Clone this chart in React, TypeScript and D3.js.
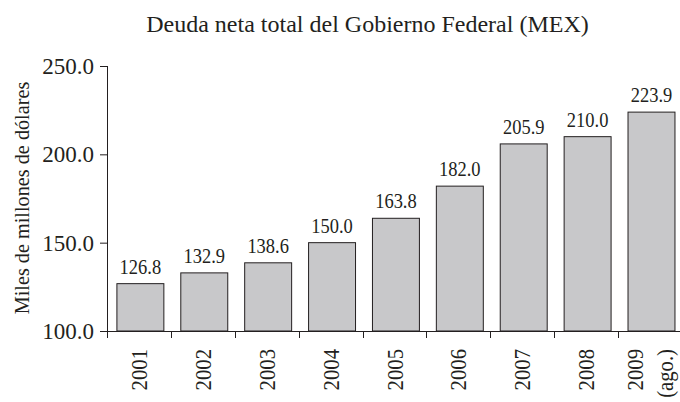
import React from "react";
import * as d3 from "d3";

const categories = ["2001", "2002", "2003", "2004", "2005", "2006", "2007", "2008", "2009"];
const categoryLines: string[][] = [["2001"], ["2002"], ["2003"], ["2004"], ["2005"], ["2006"], ["2007"], ["2008"], ["2009", "(ago.)"]];
const values = [126.8, 132.9, 138.6, 150.0, 163.8, 182.0, 205.9, 210.0, 223.9];
const valueLabels = ["126.8", "132.9", "138.6", "150.0", "163.8", "182.0", "205.9", "210.0", "223.9"];
const yTicks = [100, 150, 200, 250];
const title = "Deuda neta total del Gobierno Federal (MEX)";
const yLabel = "Miles de millones de dólares";

const W = 680;
const H = 402;
const FONT = "'Liberation Serif', 'Times New Roman', serif";
const INK = "#231f20";

export default function App() {
  const x = d3.scaleBand<string>().domain(categories).range([107, 682]).padding(0);
  const y = d3.scaleLinear().domain([100, 250]).range([331, 66]);
  const bw = x.bandwidth();
  const barW = bw * 0.735;
  const barOff = bw * 0.155;
  const base = y(100);

  return (
    <svg width={W} height={H} style={{ position: "absolute", left: 0, top: 0, background: "#fff" }}>
      <text x={367.5} y={32} textAnchor="middle" fontFamily={FONT} fontSize={24} fill={INK}>
        {title}
      </text>

      {/* bars */}
      {categories.map((c, i) => (
        <rect
          key={c}
          x={(x(c) as number) + barOff}
          y={y(values[i])}
          width={barW}
          height={base - y(values[i])}
          fill="#c8c8ca"
          stroke={INK}
          strokeWidth={1}
        />
      ))}

      {/* value labels */}
      {categories.map((c, i) => {
        const cx = (x(c) as number) + barOff + barW / 2;
        const by = y(values[i]) - 10;
        return (
          <text
            key={c}
            transform={`translate(${cx},${by}) scale(0.88,1)`}
            textAnchor="middle"
            fontFamily={FONT}
            fontSize={21}
            fill={INK}
          >
            {valueLabels[i]}
          </text>
        );
      })}

      {/* y axis */}
      <line x1={107.5} x2={107.5} y1={y(250)} y2={base} stroke={INK} strokeWidth={1} />
      {yTicks.map((t) => (
        <g key={t}>
          <line x1={100} x2={107.5} y1={y(t) + 0.5} y2={y(t) + 0.5} stroke={INK} strokeWidth={1} />
          <text
            x={94}
            y={y(t)}
            dy="0.35em"
            textAnchor="end"
            fontFamily={FONT}
            fontSize={23}
            fill={INK}
          >
            {d3.format(".1f")(t)}
          </text>
        </g>
      ))}

      {/* x axis */}
      <line x1={107} x2={682} y1={base + 0.5} y2={base + 0.5} stroke={INK} strokeWidth={1} />
      {categories.map((c) => (
        <line
          key={c}
          x1={Math.round(x(c) as number) + 0.5}
          x2={Math.round(x(c) as number) + 0.5}
          y1={base}
          y2={base + 7}
          stroke={INK}
          strokeWidth={1}
        />
      ))}
      {categories.map((c, i) => {
        const lines = categoryLines[i];
        const cx = (x(c) as number) + bw / 2;
        const lh = 30;
        const first = cx - ((lines.length - 1) * lh) / 2;
        return (
          <text
            key={c}
            transform={`translate(${first},349) rotate(-90) scale(0.9,1)`}
            textAnchor="end"
            fontFamily={FONT}
            fontSize={23}
            fill={INK}
          >
            {lines.map((ln, j) => (
              <tspan key={j} x={0} y={0} dy={`${0.35 + (j * lh) / 23}em`}>
                {ln}
              </tspan>
            ))}
          </text>
        );
      })}

      {/* y label */}
      <text
        transform={`translate(29,198) rotate(-90) scale(0.92,1)`}
        textAnchor="middle"
        fontFamily={FONT}
        fontSize={22}
        fill={INK}
      >
        {yLabel}
      </text>
    </svg>
  );
}
